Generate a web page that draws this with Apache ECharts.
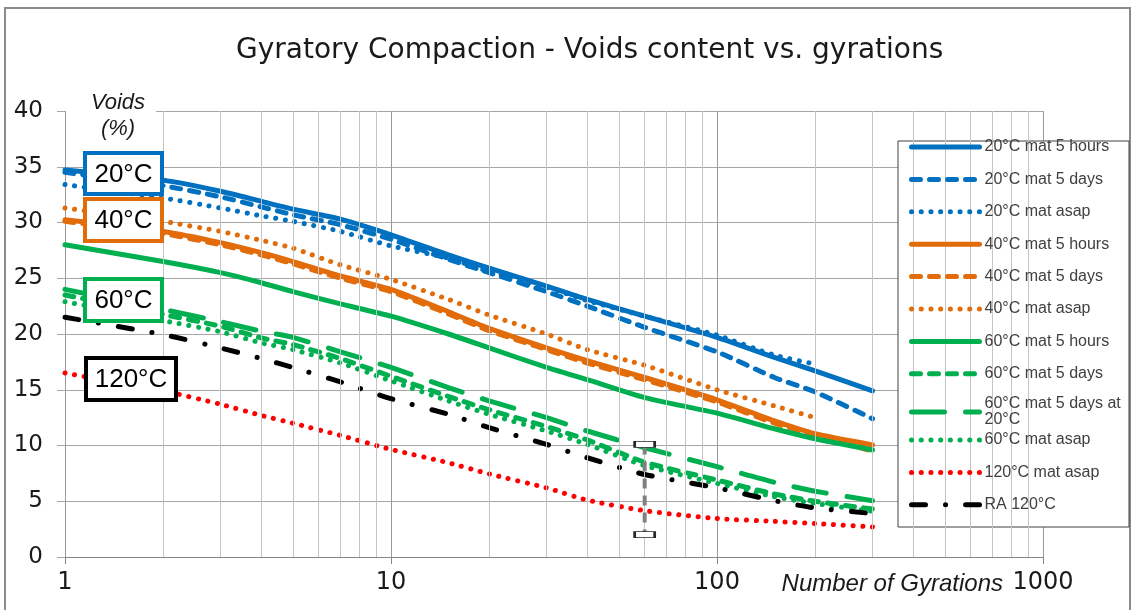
<!DOCTYPE html>
<html>
<head>
<meta charset="utf-8">
<script src="https://cdn.jsdelivr.net/npm/echarts@6/dist/echarts.min.js"></script>
<style>
  html, body { margin: 0; padding: 0; background: #fff; }
  #chart { width: 1135px; height: 610px; }
</style>
</head>
<body>
<div id="chart"></div>
<script>
// number of gyrations (log x axis)
const gyrations = [1, 2, 3, 4, 5, 7, 10, 15, 20, 30, 40, 60, 100, 150, 200, 300];

// voids content (%) per mix
const v20h5 = [34.7, 33.8, 32.8, 31.9, 31.2, 30.3, 28.9, 27.1, 25.9, 24.3, 23.1, 21.6, 19.7, 17.9, 16.7, 14.9];
const v20d5 = [34.5, 33.3, 32.3, 31.4, 30.7, 29.8, 28.5, 26.7, 25.5, 23.8, 22.5, 20.6, 18.4, 16.1, 14.8, 12.4];
const v20asap = [33.4, 32.2, 31.3, 30.6, 30.1, 29.2, 27.9, 26.8, 25.6, 24.2, 23.0, 21.6, 19.9, 18.1, 17.3, null];
const v40h5 = [30.25, 29.2, 28.2, 27.3, 26.5, 25.2, 24.0, 22.0, 20.5, 18.75, 17.6, 16.1, 14.1, 12.2, 11.05, 10.05];
const v40d5 = [30.1, 29.0, 28.0, 27.1, 26.3, 25.0, 23.8, 21.8, 20.3, 18.6, 17.4, 15.9, 13.9, 12.0, 10.9, 9.5];
const v40asap = [31.3, 30.1, 29.2, 28.4, 27.7, 26.2, 24.9, 23.1, 21.7, 20.0, 18.6, 17.2, 15.0, 13.55, 12.5, null];
const v60h5 = [28.0, 26.5, 25.5, 24.6, 23.8, 22.7, 21.6, 20.0, 18.75, 17.0, 15.9, 14.3, 12.9, 11.5, 10.6, 9.6];
const v60d5 = [23.5, 21.75, 20.7, 19.65, 19.05, 17.8, 16.2, 14.4, 13.2, 11.7, 10.5, 8.5, 6.9, 5.65, 5.0, 4.3];
const v60d5at20 = [24.0, 22.2, 21.1, 20.25, 19.7, 18.4, 17.0, 15.2, 14.0, 12.5, 11.3, 9.8, 8.1, 6.7, 5.9, 5.05];
const v60asap = [22.9, 21.2, 20.2, 19.2, 18.6, 17.4, 15.8, 14.0, 12.8, 11.3, 10.1, 8.2, 6.6, 5.4, 4.8, 4.1];
const v120asap = [16.5, 14.9, 13.7, 12.7, 12.0, 10.9, 9.65, 8.45, 7.45, 6.2, 5.1, 4.15, 3.45, 3.2, 3.0, 2.7];
const vRA120 = [21.5, 19.95, 18.75, 17.8, 17.0, 15.7, 14.2, 12.8, 11.6, 10.1, 8.9, 7.4, 6.2, 5.05, 4.4, 3.9];

// range bar at 60 gyrations
const rangeBar = [[60, 10.1], [60, 2.0]];

// minor log gridlines
const minorTicks = [2, 3, 4, 5, 6, 7, 8, 9, 20, 30, 40, 50, 60, 70, 80, 90, 200, 300, 400, 500, 600, 700, 800, 900];

const BLUE = "#0070c0", ORANGE = "#e36c0a", GREEN = "#00b050", RED = "#ff0000", BLACK = "#000000";

const SOLID = "solid";
const DASH = [9, 9];
const DOT = [0.1, 9.6];
const LONGDASH = [33, 21];
const DASHDOT = [14, 20, 0.1, 20];

function pairs(vals) {
  const out = [];
  gyrations.forEach((g, i) => { if (vals[i] != null) out.push([g, vals[i]]); });
  return out;
}

function mkLine(name, vals, color, dash) {
  return {
    name: name,
    type: "line",
    data: pairs(vals),
    symbol: "none",
    smooth: 0.2,
    z: 3,
    lineStyle: { color: color, width: 5, type: dash, cap: "round" },
    itemStyle: { color: color },
  };
}

const lines = [
  mkLine("20°C mat 5 hours", v20h5, BLUE, SOLID),
  mkLine("20°C mat 5 days", v20d5, BLUE, DASH),
  mkLine("20°C mat asap", v20asap, BLUE, DOT),
  mkLine("40°C mat 5 hours", v40h5, ORANGE, SOLID),
  mkLine("40°C mat 5 days", v40d5, ORANGE, DASH),
  mkLine("40°C mat asap", v40asap, ORANGE, DOT),
  mkLine("60°C mat 5 hours", v60h5, GREEN, SOLID),
  mkLine("60°C mat 5 days", v60d5, GREEN, DASH),
  mkLine("60°C mat 5 days at\n20°C", v60d5at20, GREEN, LONGDASH),
  mkLine("60°C mat asap", v60asap, GREEN, DOT),
  mkLine("120°C mat asap", v120asap, RED, DOT),
  mkLine("RA 120°C", vRA120, BLACK, DASHDOT),
];
const names = lines.map((s) => s.name);

const chart = echarts.init(document.getElementById("chart"));

function tempBox(label, x, y, w, h, color) {
  return {
    type: "group",
    z: 10,
    children: [
      { type: "rect", shape: { x: x, y: y, width: w, height: h }, style: { fill: "#fff", stroke: color, lineWidth: 4 }, z: 10 },
      {
        type: "text", x: x + w / 2, y: y + h / 2 + 1, z: 11,
        style: { text: label, fill: "#000", font: "26px 'Liberation Sans', Arial, sans-serif", align: "center", verticalAlign: "middle" },
      },
    ],
  };
}

const LEGEND_FONT = { fontFamily: "'Liberation Sans', Arial, sans-serif", fontSize: 16, color: "#404040" };

function mkLegend(top, items) {
  return {
    orient: "vertical",
    left: 909,
    top: top,
    itemWidth: 68,
    itemHeight: 14,
    itemGap: 16.4,
    padding: 0,
    z: 6,
    itemStyle: { opacity: 0 },
    lineStyle: { width: 5 },
    textStyle: LEGEND_FONT,
    data: items,
  };
}

const option = {
  backgroundColor: "#fff",
  animation: false,
  title: {
    text: "Gyratory Compaction - Voids content vs. gyrations",
    left: 231,
    top: 32,
    textStyle: { fontFamily: "'DejaVu Sans', sans-serif", fontSize: 28, fontWeight: "normal", color: "#1a1a1a" },
  },
  grid: { left: 65, right: 92, top: 111, bottom: 53, containLabel: false },
  legend: [
    mkLegend(139, names.slice(0, 8)),
    mkLegend(384, [{ name: names[8], textStyle: { lineHeight: 16, padding: [24, 0, 0, 0] } }]),
    mkLegend(432, names.slice(9)),
  ],
  xAxis: {
    type: "log",
    logBase: 10,
    min: 1,
    max: 1000,
    axisLine: { show: true, onZero: false, lineStyle: { color: "#868686", width: 1 } },
    axisTick: { show: true, length: 7, lineStyle: { color: "#868686" } },
    axisLabel: {
      fontFamily: "'DejaVu Sans', sans-serif", fontSize: 24, color: "#1a1a1a", margin: 14,
      formatter: (v) => String(v),
    },
    splitLine: { show: true, lineStyle: { color: "#9a9a9a", width: 1 } },
  },
  yAxis: {
    type: "value",
    min: 0,
    max: 40,
    interval: 5,
    axisLine: { show: false },
    axisTick: { show: true, length: 8, lineStyle: { color: "#a6a6a6" } },
    axisLabel: { fontFamily: "'DejaVu Sans', sans-serif", fontSize: 23, color: "#1a1a1a", margin: 22 },
    splitLine: { show: true, lineStyle: { color: "#a6a6a6", width: 1 } },
  },
  series: [
    {
      name: "minor-grid",
      type: "line",
      data: [],
      z: 1,
      silent: true,
      markLine: {
        silent: true,
        symbol: "none",
        label: { show: false },
        lineStyle: { color: "#c4c4c4", width: 1, type: "solid" },
        data: minorTicks.map((t) => ({ xAxis: t })),
      },
    },
  ].concat(lines, [
    {
      name: "range",
      type: "line",
      data: rangeBar,
      z: 8,
      symbol: "rect",
      symbolSize: [20, 6],
      itemStyle: { color: "#fff", borderColor: "#262626", borderWidth: 1.5 },
      lineStyle: { color: "#808080", width: 4, type: [10, 7] },
    },
  ]),
  graphic: [
    // outer chart border
    { type: "rect", shape: { x: 5, y: 8, width: 1125, height: 620 }, style: { fill: "none", stroke: "#8c8c8c", lineWidth: 2 }, z: 0, silent: true },
    // legend box
    { type: "rect", shape: { x: 898, y: 141, width: 231, height: 386 }, style: { fill: "#fff", stroke: "#404040", lineWidth: 1 }, z: 4 },
    // axis titles
    { type: "rect", shape: { x: 66, y: 92, width: 90, height: 24 }, style: { fill: "#fff" }, z: 4 },
    {
      type: "text", x: 118, y: 103, z: 5,
      style: { text: "Voids", fill: "#1a1a1a", font: "italic 22px 'Liberation Sans', Arial, sans-serif", align: "center", verticalAlign: "middle" },
    },
    {
      type: "text", x: 118, y: 129, z: 5,
      style: { text: "(%)", fill: "#1a1a1a", font: "italic 22px 'Liberation Sans', Arial, sans-serif", align: "center", verticalAlign: "middle" },
    },
    {
      type: "text", x: 1003, y: 584, z: 5,
      style: { text: "Number of Gyrations", fill: "#1a1a1a", font: "italic 24px 'Liberation Sans', Arial, sans-serif", align: "right", verticalAlign: "middle" },
    },
    tempBox("20°C", 85, 153, 77, 41, BLUE),
    tempBox("40°C", 85, 199, 77, 42, ORANGE),
    tempBox("60°C", 85, 279, 77, 42, GREEN),
    tempBox("120°C", 86, 358, 90, 42, BLACK),
  ],
};

chart.setOption(option);
</script>
</body>
</html>
